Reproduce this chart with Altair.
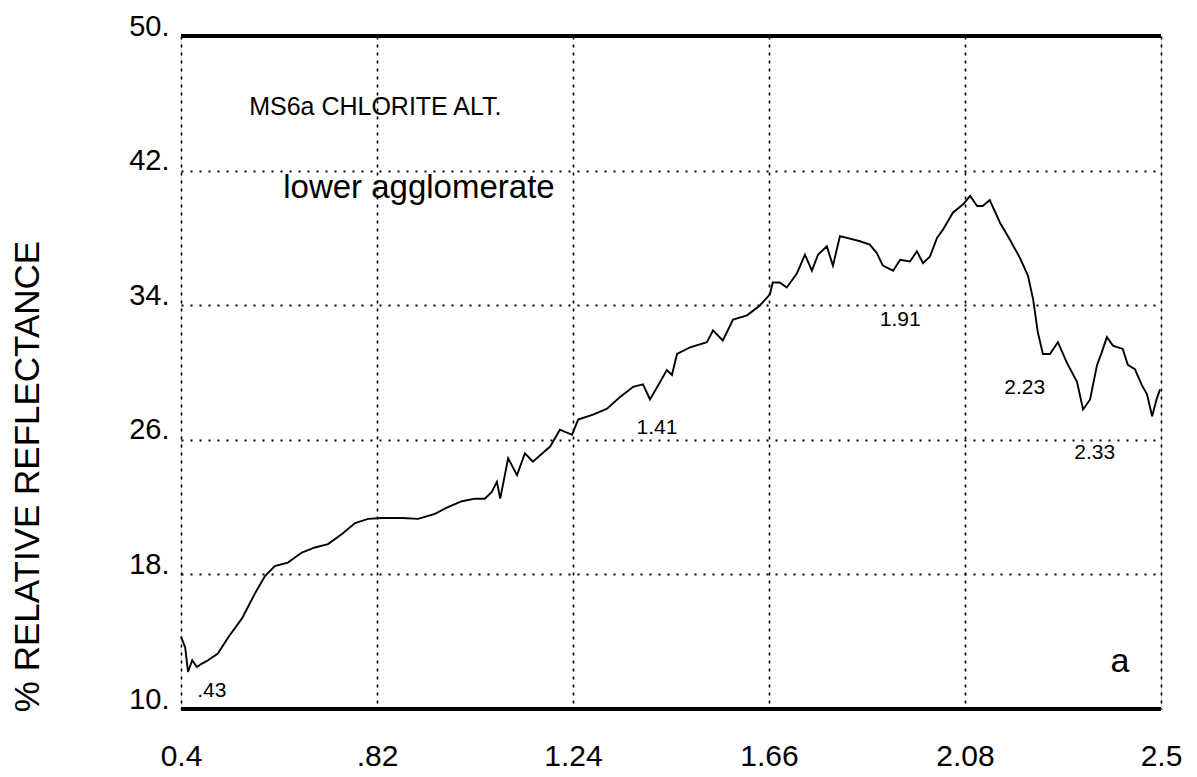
import altair as alt
import pandas as pd

# ---- spectrum (wavelength in micrometres, % relative reflectance) ----
wavelength = [0.400, 0.409, 0.415, 0.424, 0.434, 0.445, 0.458, 0.479, 0.501, 0.531,
              0.559, 0.580, 0.601, 0.629, 0.659, 0.687, 0.715, 0.745, 0.773, 0.801,
              0.831, 0.874, 0.908, 0.944, 0.972, 1.002, 1.030, 1.051, 1.066, 1.077,
              1.084, 1.101, 1.120, 1.137, 1.154, 1.191, 1.212, 1.238, 1.251, 1.283,
              1.313, 1.341, 1.369, 1.390, 1.405, 1.426, 1.441, 1.452, 1.463, 1.491,
              1.527, 1.540, 1.561, 1.583, 1.613, 1.641, 1.662, 1.668, 1.683, 1.698,
              1.720, 1.737, 1.752, 1.765, 1.784, 1.797, 1.812, 1.827, 1.855, 1.876,
              1.891, 1.904, 1.926, 1.941, 1.962, 1.977, 1.990, 2.005, 2.020, 2.033,
              2.054, 2.076, 2.091, 2.106, 2.118, 2.133, 2.155, 2.176, 2.198, 2.215,
              2.226, 2.236, 2.247, 2.262, 2.279, 2.298, 2.320, 2.333, 2.348, 2.363,
              2.373, 2.384, 2.397, 2.418, 2.429, 2.444, 2.459, 2.470, 2.481, 2.491,
              2.498]
reflectance = [14.3, 13.66, 12.2, 12.9, 12.5, 12.7, 12.9, 13.3, 14.25, 15.4,
               16.9, 17.9, 18.5, 18.7, 19.3, 19.6, 19.8, 20.4, 21.05, 21.3,
               21.35, 21.35, 21.3, 21.6, 22.0, 22.35, 22.5, 22.5, 22.9, 23.5,
               22.5, 24.9, 23.9, 25.2, 24.7, 25.6, 26.6, 26.3, 27.2, 27.5,
               27.85, 28.55, 29.15, 29.3, 28.4, 29.4, 30.15, 29.85, 31.1, 31.5,
               31.8, 32.5, 31.9, 33.15, 33.4, 34.0, 34.65, 35.35, 35.35, 35.05,
               35.9, 37.0, 36.05, 37.0, 37.5, 36.35, 38.1, 38.0, 37.8, 37.6,
               37.1, 36.35, 36.05, 36.7, 36.6, 37.2, 36.5, 36.9, 38.0, 38.5,
               39.5, 40.0, 40.5, 39.9, 39.9, 40.25, 38.9, 37.9, 36.8, 35.75,
               34.35, 32.4, 31.1, 31.1, 31.8, 30.6, 29.45, 27.8, 28.4, 30.45,
               31.2, 32.1, 31.6, 31.4, 30.45, 30.2, 29.25, 28.7, 27.4, 28.45,
               29.0]

# ---- axes ----
x_ticks = [0.4, 0.82, 1.24, 1.66, 2.08, 2.5]
x_tick_labels = ["0.4", ".82", "1.24", "1.66", "2.08", "2.5"]
y_ticks = [10, 18, 26, 34, 42, 50]
y_title = "% RELATIVE REFLECTANCE"

# ---- annotations ----
head_text = ["MS6a CHLORITE ALT.", "lower agglomerate"]
head_x = [0.546, 0.619]
head_y = [45.3, 40.4]

band_text = [".43", "1.41", "1.91", "2.23", "2.33"]
band_x = [0.466, 1.420, 1.941, 2.208, 2.358]
band_y = [11.05, 26.7, 33.1, 29.1, 25.2]

panel_text = ["a"]
panel_x = [2.412]
panel_y = [12.8]

border_y = [10, 50]

spec = pd.DataFrame({"w": wavelength, "r": reflectance})
FONT = "Liberation Sans"

lab_expr = ""
for v, t in zip(x_ticks, x_tick_labels):
    lab_expr += f"abs(datum.value - {v}) < 0.001 ? '{t}' : "
lab_expr += "''"

xs = alt.Scale(domain=[x_ticks[0], x_ticks[-1]], nice=False, zero=False)
ys = alt.Scale(domain=[y_ticks[0], y_ticks[-1]], nice=False, zero=False)

line = alt.Chart(spec).mark_line(color="black", strokeWidth=1.9).encode(
    x=alt.X("w:Q", scale=xs,
            axis=alt.Axis(values=x_ticks, labelExpr=lab_expr, title=None,
                          domain=False, ticks=False, labelFlush=False,
                          labelFont=FONT, labelFontSize=30, labelColor="black",
                          labelPadding=32,
                          grid=True, gridColor="black", gridDash=[3, 5],
                          gridWidth=1.6, gridOpacity=1)),
    y=alt.Y("r:Q", scale=ys,
            axis=alt.Axis(values=y_ticks, labelExpr="datum.value + '.'",
                          title=y_title, titleFont=FONT, titleFontSize=35,
                          titleFontWeight="normal", titleColor="black",
                          titleAngle=270, titleAlign="center",
                          titleBaseline="middle",
                          titleX=-154, titleY=440,
                          domain=False, ticks=False,
                          labelFont=FONT, labelFontSize=29, labelColor="black",
                          labelPadding=12, labelBaseline="alphabetic",
                          labelOffset=-1,
                          grid=True, gridColor="black", gridDash=[2, 7],
                          gridWidth=2, gridOpacity=1)),
)

borders = alt.Chart(pd.DataFrame({"b": border_y})).mark_rule(
    color="black", strokeWidth=4).encode(y=alt.Y("b:Q", scale=ys))

head_df = pd.DataFrame({"t": head_text, "x": head_x, "y": head_y,
                        "s": ["small", "big"]})
head1 = alt.Chart(head_df[head_df.s == "small"]).mark_text(
    font=FONT, fontSize=25, align="left", baseline="alphabetic", color="black"
).encode(x=alt.X("x:Q", scale=xs), y=alt.Y("y:Q", scale=ys), text="t:N")
head2 = alt.Chart(head_df[head_df.s == "big"]).mark_text(
    font=FONT, fontSize=33, align="left", baseline="alphabetic", color="black"
).encode(x=alt.X("x:Q", scale=xs), y=alt.Y("y:Q", scale=ys), text="t:N")

band_df = pd.DataFrame({"t": band_text, "x": band_x, "y": band_y})
bands = alt.Chart(band_df).mark_text(
    font=FONT, fontSize=21, align="center", baseline="middle", color="black"
).encode(x=alt.X("x:Q", scale=xs), y=alt.Y("y:Q", scale=ys), text="t:N")

panel_df = pd.DataFrame({"t": panel_text, "x": panel_x, "y": panel_y})
panel = alt.Chart(panel_df).mark_text(
    font=FONT, fontSize=34, align="center", baseline="middle", color="black"
).encode(x=alt.X("x:Q", scale=xs), y=alt.Y("y:Q", scale=ys), text="t:N")

chart = alt.layer(line, borders, head1, head2, bands, panel).properties(
    width=980, height=673,
    autosize=alt.AutoSizeParams(type="none"),
    padding={"left": 173, "top": 28, "right": 26, "bottom": 68},
).configure_view(stroke="black", strokeWidth=2).configure(background="white")

chart.save("out.html", embed_options={"renderer": "svg", "actions": False})
